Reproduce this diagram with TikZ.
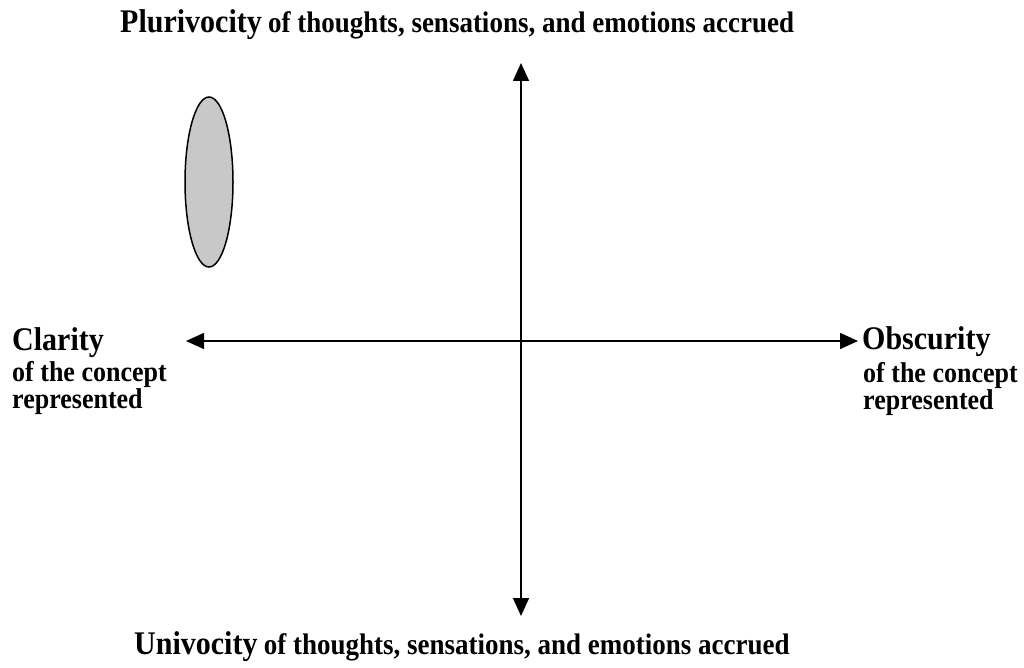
\documentclass[tikz,border=0pt]{standalone}
\usepackage{fontspec}
\usepackage{graphicx}
\setmainfont{Liberation Serif}
\usetikzlibrary{arrows.meta}
\newcommand{\tallbox}[1]{\scalebox{1}[1.1]{#1}}
\newcommand{\twolines}[2]{\tallbox{\begin{tabular}[t]{@{}l@{}}#1\\#2\end{tabular}}}
\tikzset{
  axis/.style={line width=1.5pt, {Triangle[length=18pt,width=16pt]}-{Triangle[length=18pt,width=16pt]}},
  big/.style={font=\bfseries\fontsize{30}{32}\selectfont, inner sep=0pt, anchor=base west},
  small/.style={font=\bfseries\fontsize{26}{22}\selectfont, inner sep=0pt, anchor=base west},
  smalltop/.style={font=\bfseries\fontsize{27}{28}\selectfont, inner sep=0pt, anchor=base west},
  blob/.style={draw, line width=1.5pt, fill={rgb,255:red,200;green,200;blue,200}}
}
\begin{document}
\begin{tikzpicture}[x=1pt,y=-1pt]
\useasboundingbox (0,0) rectangle (1024,668);
% axes
\coordinate (L) at (186,341);
\coordinate (R) at (858,341);
\coordinate (T) at (521,63);
\coordinate (B) at (521,616);
\draw[axis] (L) -- (R);
\draw[axis] (T) -- (B);
% ellipse
\draw[blob] (209,182) ellipse [x radius=24, y radius=85];
% top label
\node[big] (plu) at (120,33) {\tallbox{Plurivocity}};
\node[smalltop] (plus) at ([xshift=6pt]plu.base east) {\tallbox{of thoughts, sensations, and emotions accrued}};
% bottom label
\node[big] (uni) at (134,654) {\tallbox{Univocity}};
\node[smalltop] (unis) at ([xshift=6pt]uni.base east) {\tallbox{of thoughts, sensations, and emotions accrued}};
% left label
\node[big] (cla) at (12,350) {\tallbox{Clarity}};
\node[small] (cla1) at (12,381) {\twolines{of the concept}{represented}};
% right label
\node[big] (obs) at (862,349) {\tallbox{Obscurity}};
\node[small] (obs1) at (863,382) {\twolines{of the concept}{represented}};
\end{tikzpicture}
\end{document}
